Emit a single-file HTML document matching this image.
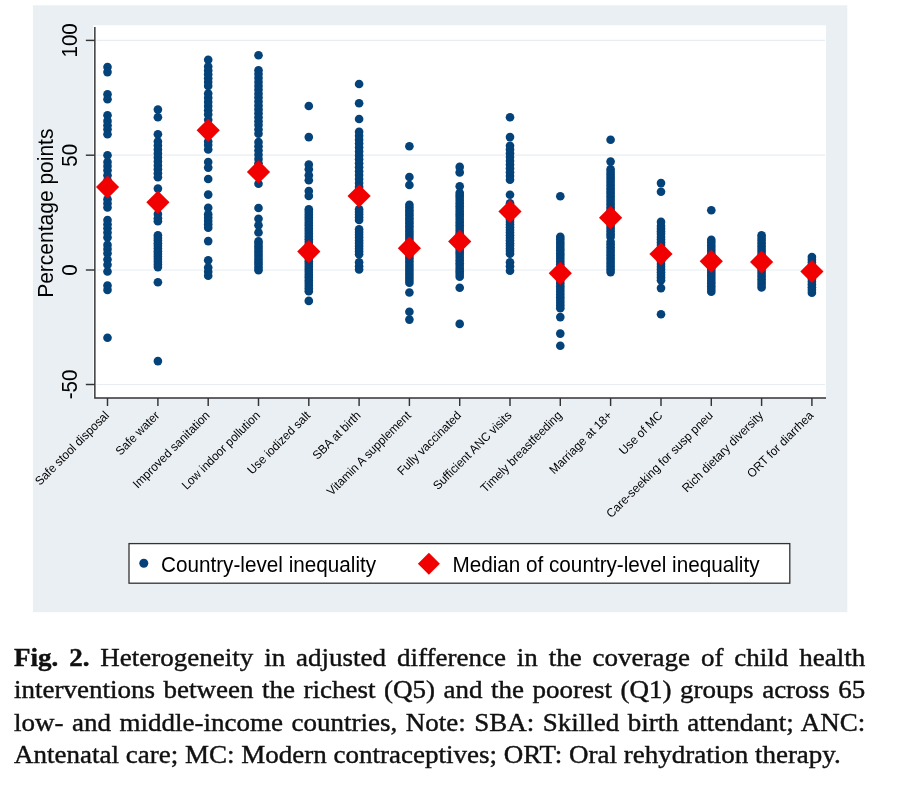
<!DOCTYPE html>
<html><head><meta charset="utf-8"><title>Fig. 2</title>
<style>
html,body{margin:0;padding:0;background:#fff;}
body{width:903px;height:786px;position:relative;overflow:hidden;font-family:"Liberation Sans",sans-serif;}
.ln{position:absolute;left:13.9px;top:0;width:781.61px;height:27.45px;line-height:27.45px;font-family:"Liberation Serif",serif;font-size:24.8px;color:#111;white-space:nowrap;text-align:justify;text-align-last:justify;transform-origin:0 0;filter:grayscale(1);-webkit-text-stroke:0.4px #111;}
.ln.last{text-align:left;text-align-last:left;}
</style></head><body>
<svg width="903" height="786" viewBox="0 0 903 786" style="position:absolute;left:0;top:0">
<defs><filter id="gs" x="-5%" y="-5%" width="110%" height="110%" color-interpolation-filters="sRGB"><feColorMatrix type="saturate" values="0"/></filter></defs>
<rect x="32.9" y="5.3" width="814.4" height="606.9" fill="#eaeff4"/>
<rect x="93.25" y="25.299999999999997" width="732.75" height="372.70000000000005" fill="#ffffff"/>
<line x1="96.35" x2="825.2" y1="40.4" y2="40.4" stroke="#e8edf4" stroke-width="1.2"/>
<line x1="96.35" x2="825.2" y1="155.2" y2="155.2" stroke="#e8edf4" stroke-width="1.2"/>
<line x1="96.35" x2="825.2" y1="270.0" y2="270.0" stroke="#e8edf4" stroke-width="1.2"/>
<line x1="96.35" x2="825.2" y1="384.5" y2="384.5" stroke="#e8edf4" stroke-width="1.2"/>
<g fill="#04427a">
<circle cx="107.5" cy="67.0" r="4.32"/>
<circle cx="107.5" cy="72.1" r="4.32"/>
<circle cx="107.5" cy="94.3" r="4.32"/>
<circle cx="107.5" cy="99.3" r="4.32"/>
<circle cx="107.5" cy="115.3" r="4.32"/>
<circle cx="107.5" cy="120.9" r="4.32"/>
<circle cx="107.5" cy="125.3" r="4.32"/>
<circle cx="107.5" cy="129.3" r="4.32"/>
<circle cx="107.5" cy="134.3" r="4.32"/>
<circle cx="107.5" cy="155.3" r="4.32"/>
<circle cx="107.5" cy="162.0" r="4.32"/>
<circle cx="107.5" cy="166.1" r="4.32"/>
<circle cx="107.5" cy="170.3" r="4.32"/>
<circle cx="107.5" cy="175.3" r="4.32"/>
<circle cx="107.5" cy="180.3" r="4.32"/>
<circle cx="107.5" cy="199.2" r="4.32"/>
<circle cx="107.5" cy="203.4" r="4.32"/>
<circle cx="107.5" cy="207.5" r="4.32"/>
<circle cx="107.5" cy="220.0" r="4.32"/>
<circle cx="107.5" cy="224.2" r="4.32"/>
<circle cx="107.5" cy="228.3" r="4.32"/>
<circle cx="107.5" cy="232.6" r="4.32"/>
<circle cx="107.5" cy="237.4" r="4.32"/>
<circle cx="107.5" cy="244.9" r="4.32"/>
<circle cx="107.5" cy="249.1" r="4.32"/>
<circle cx="107.5" cy="253.2" r="4.32"/>
<circle cx="107.5" cy="259.5" r="4.32"/>
<circle cx="107.5" cy="264.8" r="4.32"/>
<circle cx="107.5" cy="271.5" r="4.32"/>
<circle cx="107.5" cy="285.6" r="4.32"/>
<circle cx="107.5" cy="289.9" r="4.32"/>
<circle cx="107.5" cy="337.8" r="4.32"/>
<circle cx="157.9" cy="109.6" r="4.32"/>
<circle cx="157.9" cy="117.3" r="4.32"/>
<circle cx="157.9" cy="134.3" r="4.32"/>
<circle cx="157.9" cy="141.5" r="4.32"/>
<circle cx="157.9" cy="145.5" r="4.32"/>
<circle cx="157.9" cy="149.5" r="4.32"/>
<circle cx="157.9" cy="153.4" r="4.32"/>
<circle cx="157.9" cy="157.4" r="4.32"/>
<circle cx="157.9" cy="161.4" r="4.32"/>
<circle cx="157.9" cy="165.4" r="4.32"/>
<circle cx="157.9" cy="169.3" r="4.32"/>
<circle cx="157.9" cy="173.3" r="4.32"/>
<circle cx="157.9" cy="177.3" r="4.32"/>
<circle cx="157.9" cy="188.6" r="4.32"/>
<circle cx="157.9" cy="214.0" r="4.32"/>
<circle cx="157.9" cy="218.3" r="4.32"/>
<circle cx="157.9" cy="221.3" r="4.32"/>
<circle cx="157.9" cy="235.2" r="4.32"/>
<circle cx="157.9" cy="237.9" r="4.32"/>
<circle cx="157.9" cy="240.5" r="4.32"/>
<circle cx="157.9" cy="243.2" r="4.32"/>
<circle cx="157.9" cy="245.8" r="4.32"/>
<circle cx="157.9" cy="248.5" r="4.32"/>
<circle cx="157.9" cy="251.2" r="4.32"/>
<circle cx="157.9" cy="253.8" r="4.32"/>
<circle cx="157.9" cy="256.5" r="4.32"/>
<circle cx="157.9" cy="259.1" r="4.32"/>
<circle cx="157.9" cy="261.8" r="4.32"/>
<circle cx="157.9" cy="264.4" r="4.32"/>
<circle cx="157.9" cy="267.1" r="4.32"/>
<circle cx="157.9" cy="282.3" r="4.32"/>
<circle cx="157.9" cy="361.1" r="4.32"/>
<circle cx="208.2" cy="59.8" r="4.32"/>
<circle cx="208.2" cy="66.6" r="4.32"/>
<circle cx="208.2" cy="70.5" r="4.32"/>
<circle cx="208.2" cy="74.3" r="4.32"/>
<circle cx="208.2" cy="78.2" r="4.32"/>
<circle cx="208.2" cy="82.0" r="4.32"/>
<circle cx="208.2" cy="85.9" r="4.32"/>
<circle cx="208.2" cy="93.6" r="4.32"/>
<circle cx="208.2" cy="97.8" r="4.32"/>
<circle cx="208.2" cy="101.9" r="4.32"/>
<circle cx="208.2" cy="106.1" r="4.32"/>
<circle cx="208.2" cy="110.2" r="4.32"/>
<circle cx="208.2" cy="114.4" r="4.32"/>
<circle cx="208.2" cy="119.7" r="4.32"/>
<circle cx="208.2" cy="141.5" r="4.32"/>
<circle cx="208.2" cy="145.1" r="4.32"/>
<circle cx="208.2" cy="149.5" r="4.32"/>
<circle cx="208.2" cy="162.0" r="4.32"/>
<circle cx="208.2" cy="167.6" r="4.32"/>
<circle cx="208.2" cy="179.0" r="4.32"/>
<circle cx="208.2" cy="194.6" r="4.32"/>
<circle cx="208.2" cy="207.7" r="4.32"/>
<circle cx="208.2" cy="214.4" r="4.32"/>
<circle cx="208.2" cy="217.7" r="4.32"/>
<circle cx="208.2" cy="221.0" r="4.32"/>
<circle cx="208.2" cy="224.4" r="4.32"/>
<circle cx="208.2" cy="227.7" r="4.32"/>
<circle cx="208.2" cy="241.1" r="4.32"/>
<circle cx="208.2" cy="260.2" r="4.32"/>
<circle cx="208.2" cy="267.5" r="4.32"/>
<circle cx="208.2" cy="271.7" r="4.32"/>
<circle cx="208.2" cy="275.8" r="4.32"/>
<circle cx="258.5" cy="55.2" r="4.32"/>
<circle cx="258.5" cy="70.2" r="4.32"/>
<circle cx="258.5" cy="74.1" r="4.32"/>
<circle cx="258.5" cy="78.0" r="4.32"/>
<circle cx="258.5" cy="82.0" r="4.32"/>
<circle cx="258.5" cy="85.9" r="4.32"/>
<circle cx="258.5" cy="89.8" r="4.32"/>
<circle cx="258.5" cy="93.7" r="4.32"/>
<circle cx="258.5" cy="97.6" r="4.32"/>
<circle cx="258.5" cy="101.6" r="4.32"/>
<circle cx="258.5" cy="105.5" r="4.32"/>
<circle cx="258.5" cy="109.4" r="4.32"/>
<circle cx="258.5" cy="113.3" r="4.32"/>
<circle cx="258.5" cy="117.3" r="4.32"/>
<circle cx="258.5" cy="121.2" r="4.32"/>
<circle cx="258.5" cy="125.1" r="4.32"/>
<circle cx="258.5" cy="129.5" r="4.32"/>
<circle cx="258.5" cy="133.8" r="4.32"/>
<circle cx="258.5" cy="142.0" r="4.32"/>
<circle cx="258.5" cy="146.3" r="4.32"/>
<circle cx="258.5" cy="150.5" r="4.32"/>
<circle cx="258.5" cy="154.8" r="4.32"/>
<circle cx="258.5" cy="159.0" r="4.32"/>
<circle cx="258.5" cy="163.3" r="4.32"/>
<circle cx="258.5" cy="183.8" r="4.32"/>
<circle cx="258.5" cy="208.0" r="4.32"/>
<circle cx="258.5" cy="218.8" r="4.32"/>
<circle cx="258.5" cy="225.3" r="4.32"/>
<circle cx="258.5" cy="232.5" r="4.32"/>
<circle cx="258.5" cy="241.2" r="4.32"/>
<circle cx="258.5" cy="243.8" r="4.32"/>
<circle cx="258.5" cy="246.5" r="4.32"/>
<circle cx="258.5" cy="249.1" r="4.32"/>
<circle cx="258.5" cy="251.8" r="4.32"/>
<circle cx="258.5" cy="254.4" r="4.32"/>
<circle cx="258.5" cy="257.1" r="4.32"/>
<circle cx="258.5" cy="259.7" r="4.32"/>
<circle cx="258.5" cy="262.4" r="4.32"/>
<circle cx="258.5" cy="265.0" r="4.32"/>
<circle cx="258.5" cy="267.7" r="4.32"/>
<circle cx="258.5" cy="270.3" r="4.32"/>
<circle cx="308.8" cy="106.0" r="4.32"/>
<circle cx="308.8" cy="137.1" r="4.32"/>
<circle cx="308.8" cy="164.5" r="4.32"/>
<circle cx="308.8" cy="169.3" r="4.32"/>
<circle cx="308.8" cy="175.3" r="4.32"/>
<circle cx="308.8" cy="180.2" r="4.32"/>
<circle cx="308.8" cy="191.0" r="4.32"/>
<circle cx="308.8" cy="195.9" r="4.32"/>
<circle cx="308.8" cy="209.2" r="4.32"/>
<circle cx="308.8" cy="211.9" r="4.32"/>
<circle cx="308.8" cy="214.7" r="4.32"/>
<circle cx="308.8" cy="217.4" r="4.32"/>
<circle cx="308.8" cy="220.1" r="4.32"/>
<circle cx="308.8" cy="222.9" r="4.32"/>
<circle cx="308.8" cy="225.6" r="4.32"/>
<circle cx="308.8" cy="228.4" r="4.32"/>
<circle cx="308.8" cy="231.1" r="4.32"/>
<circle cx="308.8" cy="233.8" r="4.32"/>
<circle cx="308.8" cy="236.6" r="4.32"/>
<circle cx="308.8" cy="239.3" r="4.32"/>
<circle cx="308.8" cy="242.0" r="4.32"/>
<circle cx="308.8" cy="244.8" r="4.32"/>
<circle cx="308.8" cy="247.5" r="4.32"/>
<circle cx="308.8" cy="250.2" r="4.32"/>
<circle cx="308.8" cy="253.0" r="4.32"/>
<circle cx="308.8" cy="255.7" r="4.32"/>
<circle cx="308.8" cy="258.5" r="4.32"/>
<circle cx="308.8" cy="261.2" r="4.32"/>
<circle cx="308.8" cy="263.9" r="4.32"/>
<circle cx="308.8" cy="266.7" r="4.32"/>
<circle cx="308.8" cy="269.4" r="4.32"/>
<circle cx="308.8" cy="272.1" r="4.32"/>
<circle cx="308.8" cy="274.9" r="4.32"/>
<circle cx="308.8" cy="277.6" r="4.32"/>
<circle cx="308.8" cy="280.4" r="4.32"/>
<circle cx="308.8" cy="283.1" r="4.32"/>
<circle cx="308.8" cy="285.8" r="4.32"/>
<circle cx="308.8" cy="288.6" r="4.32"/>
<circle cx="308.8" cy="291.3" r="4.32"/>
<circle cx="308.8" cy="300.9" r="4.32"/>
<circle cx="359.1" cy="84.0" r="4.32"/>
<circle cx="359.1" cy="103.3" r="4.32"/>
<circle cx="359.1" cy="119.0" r="4.32"/>
<circle cx="359.1" cy="131.8" r="4.32"/>
<circle cx="359.1" cy="135.7" r="4.32"/>
<circle cx="359.1" cy="139.7" r="4.32"/>
<circle cx="359.1" cy="143.6" r="4.32"/>
<circle cx="359.1" cy="147.5" r="4.32"/>
<circle cx="359.1" cy="151.5" r="4.32"/>
<circle cx="359.1" cy="155.4" r="4.32"/>
<circle cx="359.1" cy="159.3" r="4.32"/>
<circle cx="359.1" cy="163.3" r="4.32"/>
<circle cx="359.1" cy="167.2" r="4.32"/>
<circle cx="359.1" cy="171.2" r="4.32"/>
<circle cx="359.1" cy="175.1" r="4.32"/>
<circle cx="359.1" cy="179.0" r="4.32"/>
<circle cx="359.1" cy="183.0" r="4.32"/>
<circle cx="359.1" cy="186.9" r="4.32"/>
<circle cx="359.1" cy="209.2" r="4.32"/>
<circle cx="359.1" cy="211.9" r="4.32"/>
<circle cx="359.1" cy="214.6" r="4.32"/>
<circle cx="359.1" cy="217.3" r="4.32"/>
<circle cx="359.1" cy="220.0" r="4.32"/>
<circle cx="359.1" cy="229.2" r="4.32"/>
<circle cx="359.1" cy="232.0" r="4.32"/>
<circle cx="359.1" cy="234.8" r="4.32"/>
<circle cx="359.1" cy="237.6" r="4.32"/>
<circle cx="359.1" cy="240.4" r="4.32"/>
<circle cx="359.1" cy="243.1" r="4.32"/>
<circle cx="359.1" cy="245.9" r="4.32"/>
<circle cx="359.1" cy="248.7" r="4.32"/>
<circle cx="359.1" cy="251.5" r="4.32"/>
<circle cx="359.1" cy="254.3" r="4.32"/>
<circle cx="359.1" cy="262.3" r="4.32"/>
<circle cx="359.1" cy="266.3" r="4.32"/>
<circle cx="359.1" cy="269.5" r="4.32"/>
<circle cx="409.4" cy="146.3" r="4.32"/>
<circle cx="409.4" cy="177.0" r="4.32"/>
<circle cx="409.4" cy="185.0" r="4.32"/>
<circle cx="409.4" cy="204.8" r="4.32"/>
<circle cx="409.4" cy="207.5" r="4.32"/>
<circle cx="409.4" cy="210.2" r="4.32"/>
<circle cx="409.4" cy="212.9" r="4.32"/>
<circle cx="409.4" cy="215.6" r="4.32"/>
<circle cx="409.4" cy="218.2" r="4.32"/>
<circle cx="409.4" cy="220.9" r="4.32"/>
<circle cx="409.4" cy="223.6" r="4.32"/>
<circle cx="409.4" cy="226.3" r="4.32"/>
<circle cx="409.4" cy="229.0" r="4.32"/>
<circle cx="409.4" cy="231.7" r="4.32"/>
<circle cx="409.4" cy="234.4" r="4.32"/>
<circle cx="409.4" cy="237.1" r="4.32"/>
<circle cx="409.4" cy="239.8" r="4.32"/>
<circle cx="409.4" cy="242.5" r="4.32"/>
<circle cx="409.4" cy="245.1" r="4.32"/>
<circle cx="409.4" cy="247.8" r="4.32"/>
<circle cx="409.4" cy="250.5" r="4.32"/>
<circle cx="409.4" cy="253.2" r="4.32"/>
<circle cx="409.4" cy="255.9" r="4.32"/>
<circle cx="409.4" cy="258.6" r="4.32"/>
<circle cx="409.4" cy="261.3" r="4.32"/>
<circle cx="409.4" cy="264.0" r="4.32"/>
<circle cx="409.4" cy="266.7" r="4.32"/>
<circle cx="409.4" cy="269.4" r="4.32"/>
<circle cx="409.4" cy="272.0" r="4.32"/>
<circle cx="409.4" cy="274.7" r="4.32"/>
<circle cx="409.4" cy="277.4" r="4.32"/>
<circle cx="409.4" cy="280.1" r="4.32"/>
<circle cx="409.4" cy="282.8" r="4.32"/>
<circle cx="409.4" cy="292.5" r="4.32"/>
<circle cx="409.4" cy="311.8" r="4.32"/>
<circle cx="409.4" cy="319.6" r="4.32"/>
<circle cx="459.7" cy="166.9" r="4.32"/>
<circle cx="459.7" cy="172.4" r="4.32"/>
<circle cx="459.7" cy="186.2" r="4.32"/>
<circle cx="459.7" cy="192.7" r="4.32"/>
<circle cx="459.7" cy="195.4" r="4.32"/>
<circle cx="459.7" cy="198.1" r="4.32"/>
<circle cx="459.7" cy="200.8" r="4.32"/>
<circle cx="459.7" cy="203.6" r="4.32"/>
<circle cx="459.7" cy="206.3" r="4.32"/>
<circle cx="459.7" cy="209.0" r="4.32"/>
<circle cx="459.7" cy="211.7" r="4.32"/>
<circle cx="459.7" cy="214.4" r="4.32"/>
<circle cx="459.7" cy="217.1" r="4.32"/>
<circle cx="459.7" cy="219.8" r="4.32"/>
<circle cx="459.7" cy="222.5" r="4.32"/>
<circle cx="459.7" cy="225.3" r="4.32"/>
<circle cx="459.7" cy="228.0" r="4.32"/>
<circle cx="459.7" cy="230.7" r="4.32"/>
<circle cx="459.7" cy="233.4" r="4.32"/>
<circle cx="459.7" cy="236.1" r="4.32"/>
<circle cx="459.7" cy="238.8" r="4.32"/>
<circle cx="459.7" cy="241.5" r="4.32"/>
<circle cx="459.7" cy="244.2" r="4.32"/>
<circle cx="459.7" cy="247.0" r="4.32"/>
<circle cx="459.7" cy="249.7" r="4.32"/>
<circle cx="459.7" cy="252.4" r="4.32"/>
<circle cx="459.7" cy="255.1" r="4.32"/>
<circle cx="459.7" cy="257.8" r="4.32"/>
<circle cx="459.7" cy="260.5" r="4.32"/>
<circle cx="459.7" cy="263.2" r="4.32"/>
<circle cx="459.7" cy="265.9" r="4.32"/>
<circle cx="459.7" cy="268.7" r="4.32"/>
<circle cx="459.7" cy="271.4" r="4.32"/>
<circle cx="459.7" cy="274.1" r="4.32"/>
<circle cx="459.7" cy="276.8" r="4.32"/>
<circle cx="459.7" cy="287.7" r="4.32"/>
<circle cx="459.7" cy="323.9" r="4.32"/>
<circle cx="510.0" cy="117.3" r="4.32"/>
<circle cx="510.0" cy="137.1" r="4.32"/>
<circle cx="510.0" cy="145.8" r="4.32"/>
<circle cx="510.0" cy="149.6" r="4.32"/>
<circle cx="510.0" cy="153.3" r="4.32"/>
<circle cx="510.0" cy="157.1" r="4.32"/>
<circle cx="510.0" cy="160.9" r="4.32"/>
<circle cx="510.0" cy="164.6" r="4.32"/>
<circle cx="510.0" cy="168.4" r="4.32"/>
<circle cx="510.0" cy="172.2" r="4.32"/>
<circle cx="510.0" cy="175.9" r="4.32"/>
<circle cx="510.0" cy="179.7" r="4.32"/>
<circle cx="510.0" cy="194.7" r="4.32"/>
<circle cx="510.0" cy="203.3" r="4.32"/>
<circle cx="510.0" cy="206.0" r="4.32"/>
<circle cx="510.0" cy="208.6" r="4.32"/>
<circle cx="510.0" cy="211.3" r="4.32"/>
<circle cx="510.0" cy="213.9" r="4.32"/>
<circle cx="510.0" cy="216.6" r="4.32"/>
<circle cx="510.0" cy="219.2" r="4.32"/>
<circle cx="510.0" cy="221.9" r="4.32"/>
<circle cx="510.0" cy="224.6" r="4.32"/>
<circle cx="510.0" cy="227.2" r="4.32"/>
<circle cx="510.0" cy="229.9" r="4.32"/>
<circle cx="510.0" cy="232.5" r="4.32"/>
<circle cx="510.0" cy="235.2" r="4.32"/>
<circle cx="510.0" cy="237.9" r="4.32"/>
<circle cx="510.0" cy="240.5" r="4.32"/>
<circle cx="510.0" cy="243.2" r="4.32"/>
<circle cx="510.0" cy="245.8" r="4.32"/>
<circle cx="510.0" cy="248.5" r="4.32"/>
<circle cx="510.0" cy="251.1" r="4.32"/>
<circle cx="510.0" cy="253.8" r="4.32"/>
<circle cx="510.0" cy="262.3" r="4.32"/>
<circle cx="510.0" cy="266.3" r="4.32"/>
<circle cx="510.0" cy="270.7" r="4.32"/>
<circle cx="560.3" cy="196.3" r="4.32"/>
<circle cx="560.3" cy="236.9" r="4.32"/>
<circle cx="560.3" cy="239.6" r="4.32"/>
<circle cx="560.3" cy="242.4" r="4.32"/>
<circle cx="560.3" cy="245.1" r="4.32"/>
<circle cx="560.3" cy="247.9" r="4.32"/>
<circle cx="560.3" cy="250.6" r="4.32"/>
<circle cx="560.3" cy="253.4" r="4.32"/>
<circle cx="560.3" cy="256.1" r="4.32"/>
<circle cx="560.3" cy="258.8" r="4.32"/>
<circle cx="560.3" cy="261.6" r="4.32"/>
<circle cx="560.3" cy="264.3" r="4.32"/>
<circle cx="560.3" cy="267.1" r="4.32"/>
<circle cx="560.3" cy="269.8" r="4.32"/>
<circle cx="560.3" cy="272.6" r="4.32"/>
<circle cx="560.3" cy="275.3" r="4.32"/>
<circle cx="560.3" cy="278.0" r="4.32"/>
<circle cx="560.3" cy="280.8" r="4.32"/>
<circle cx="560.3" cy="283.5" r="4.32"/>
<circle cx="560.3" cy="286.3" r="4.32"/>
<circle cx="560.3" cy="289.0" r="4.32"/>
<circle cx="560.3" cy="291.7" r="4.32"/>
<circle cx="560.3" cy="294.5" r="4.32"/>
<circle cx="560.3" cy="297.2" r="4.32"/>
<circle cx="560.3" cy="300.0" r="4.32"/>
<circle cx="560.3" cy="302.7" r="4.32"/>
<circle cx="560.3" cy="305.5" r="4.32"/>
<circle cx="560.3" cy="308.2" r="4.32"/>
<circle cx="560.3" cy="317.1" r="4.32"/>
<circle cx="560.3" cy="333.6" r="4.32"/>
<circle cx="560.3" cy="345.7" r="4.32"/>
<circle cx="610.6" cy="139.8" r="4.32"/>
<circle cx="610.6" cy="161.6" r="4.32"/>
<circle cx="610.6" cy="169.3" r="4.32"/>
<circle cx="610.6" cy="172.0" r="4.32"/>
<circle cx="610.6" cy="174.7" r="4.32"/>
<circle cx="610.6" cy="177.4" r="4.32"/>
<circle cx="610.6" cy="180.1" r="4.32"/>
<circle cx="610.6" cy="182.8" r="4.32"/>
<circle cx="610.6" cy="185.5" r="4.32"/>
<circle cx="610.6" cy="188.2" r="4.32"/>
<circle cx="610.6" cy="190.9" r="4.32"/>
<circle cx="610.6" cy="193.6" r="4.32"/>
<circle cx="610.6" cy="196.3" r="4.32"/>
<circle cx="610.6" cy="199.0" r="4.32"/>
<circle cx="610.6" cy="201.7" r="4.32"/>
<circle cx="610.6" cy="204.5" r="4.32"/>
<circle cx="610.6" cy="207.2" r="4.32"/>
<circle cx="610.6" cy="209.9" r="4.32"/>
<circle cx="610.6" cy="212.6" r="4.32"/>
<circle cx="610.6" cy="215.3" r="4.32"/>
<circle cx="610.6" cy="218.0" r="4.32"/>
<circle cx="610.6" cy="220.7" r="4.32"/>
<circle cx="610.6" cy="223.4" r="4.32"/>
<circle cx="610.6" cy="226.1" r="4.32"/>
<circle cx="610.6" cy="228.8" r="4.32"/>
<circle cx="610.6" cy="231.5" r="4.32"/>
<circle cx="610.6" cy="234.2" r="4.32"/>
<circle cx="610.6" cy="236.9" r="4.32"/>
<circle cx="610.6" cy="241.7" r="4.32"/>
<circle cx="610.6" cy="244.5" r="4.32"/>
<circle cx="610.6" cy="247.2" r="4.32"/>
<circle cx="610.6" cy="250.0" r="4.32"/>
<circle cx="610.6" cy="252.8" r="4.32"/>
<circle cx="610.6" cy="255.5" r="4.32"/>
<circle cx="610.6" cy="258.3" r="4.32"/>
<circle cx="610.6" cy="261.0" r="4.32"/>
<circle cx="610.6" cy="263.8" r="4.32"/>
<circle cx="610.6" cy="266.6" r="4.32"/>
<circle cx="610.6" cy="269.3" r="4.32"/>
<circle cx="610.6" cy="272.1" r="4.32"/>
<circle cx="661.0" cy="183.1" r="4.32"/>
<circle cx="661.0" cy="191.8" r="4.32"/>
<circle cx="661.0" cy="221.9" r="4.32"/>
<circle cx="661.0" cy="226.0" r="4.32"/>
<circle cx="661.0" cy="228.7" r="4.32"/>
<circle cx="661.0" cy="231.4" r="4.32"/>
<circle cx="661.0" cy="234.1" r="4.32"/>
<circle cx="661.0" cy="236.9" r="4.32"/>
<circle cx="661.0" cy="239.6" r="4.32"/>
<circle cx="661.0" cy="242.3" r="4.32"/>
<circle cx="661.0" cy="245.0" r="4.32"/>
<circle cx="661.0" cy="247.7" r="4.32"/>
<circle cx="661.0" cy="250.4" r="4.32"/>
<circle cx="661.0" cy="253.2" r="4.32"/>
<circle cx="661.0" cy="255.9" r="4.32"/>
<circle cx="661.0" cy="258.6" r="4.32"/>
<circle cx="661.0" cy="261.3" r="4.32"/>
<circle cx="661.0" cy="264.0" r="4.32"/>
<circle cx="661.0" cy="266.7" r="4.32"/>
<circle cx="661.0" cy="269.4" r="4.32"/>
<circle cx="661.0" cy="272.2" r="4.32"/>
<circle cx="661.0" cy="274.9" r="4.32"/>
<circle cx="661.0" cy="277.6" r="4.32"/>
<circle cx="661.0" cy="280.3" r="4.32"/>
<circle cx="661.0" cy="288.1" r="4.32"/>
<circle cx="661.0" cy="314.3" r="4.32"/>
<circle cx="711.3" cy="210.3" r="4.32"/>
<circle cx="711.3" cy="239.9" r="4.32"/>
<circle cx="711.3" cy="242.6" r="4.32"/>
<circle cx="711.3" cy="245.4" r="4.32"/>
<circle cx="711.3" cy="248.1" r="4.32"/>
<circle cx="711.3" cy="250.8" r="4.32"/>
<circle cx="711.3" cy="253.6" r="4.32"/>
<circle cx="711.3" cy="256.3" r="4.32"/>
<circle cx="711.3" cy="259.0" r="4.32"/>
<circle cx="711.3" cy="261.8" r="4.32"/>
<circle cx="711.3" cy="264.5" r="4.32"/>
<circle cx="711.3" cy="267.2" r="4.32"/>
<circle cx="711.3" cy="269.9" r="4.32"/>
<circle cx="711.3" cy="272.7" r="4.32"/>
<circle cx="711.3" cy="275.4" r="4.32"/>
<circle cx="711.3" cy="278.1" r="4.32"/>
<circle cx="711.3" cy="280.9" r="4.32"/>
<circle cx="711.3" cy="283.6" r="4.32"/>
<circle cx="711.3" cy="286.3" r="4.32"/>
<circle cx="711.3" cy="289.1" r="4.32"/>
<circle cx="711.3" cy="291.8" r="4.32"/>
<circle cx="761.6" cy="235.2" r="4.32"/>
<circle cx="761.6" cy="238.0" r="4.32"/>
<circle cx="761.6" cy="240.7" r="4.32"/>
<circle cx="761.6" cy="243.5" r="4.32"/>
<circle cx="761.6" cy="246.2" r="4.32"/>
<circle cx="761.6" cy="249.0" r="4.32"/>
<circle cx="761.6" cy="251.7" r="4.32"/>
<circle cx="761.6" cy="254.5" r="4.32"/>
<circle cx="761.6" cy="257.2" r="4.32"/>
<circle cx="761.6" cy="260.0" r="4.32"/>
<circle cx="761.6" cy="262.7" r="4.32"/>
<circle cx="761.6" cy="265.5" r="4.32"/>
<circle cx="761.6" cy="268.2" r="4.32"/>
<circle cx="761.6" cy="271.0" r="4.32"/>
<circle cx="761.6" cy="273.7" r="4.32"/>
<circle cx="761.6" cy="276.5" r="4.32"/>
<circle cx="761.6" cy="279.2" r="4.32"/>
<circle cx="761.6" cy="282.0" r="4.32"/>
<circle cx="761.6" cy="284.7" r="4.32"/>
<circle cx="761.6" cy="287.5" r="4.32"/>
<circle cx="811.9" cy="257.0" r="4.32"/>
<circle cx="811.9" cy="259.8" r="4.32"/>
<circle cx="811.9" cy="262.5" r="4.32"/>
<circle cx="811.9" cy="265.3" r="4.32"/>
<circle cx="811.9" cy="268.0" r="4.32"/>
<circle cx="811.9" cy="270.8" r="4.32"/>
<circle cx="811.9" cy="273.5" r="4.32"/>
<circle cx="811.9" cy="276.3" r="4.32"/>
<circle cx="811.9" cy="279.0" r="4.32"/>
<circle cx="811.9" cy="281.8" r="4.32"/>
<circle cx="811.9" cy="284.5" r="4.32"/>
<circle cx="811.9" cy="287.3" r="4.32"/>
<circle cx="811.9" cy="290.0" r="4.32"/>
<circle cx="811.9" cy="292.8" r="4.32"/>
</g>
<g fill="#f00000">
<path d="M107.5 175.5L119.1 187.1L107.5 198.7L96.0 187.1Z"/>
<path d="M157.9 190.7L169.5 202.3L157.9 213.9L146.3 202.3Z"/>
<path d="M208.2 118.7L219.8 130.3L208.2 141.9L196.6 130.3Z"/>
<path d="M258.5 160.3L270.1 171.9L258.5 183.5L246.9 171.9Z"/>
<path d="M308.8 240.0L320.4 251.6L308.8 263.2L297.2 251.6Z"/>
<path d="M359.1 184.4L370.7 196.0L359.1 207.6L347.5 196.0Z"/>
<path d="M409.4 236.6L421.0 248.2L409.4 259.8L397.8 248.2Z"/>
<path d="M459.7 229.8L471.3 241.4L459.7 253.0L448.1 241.4Z"/>
<path d="M510.0 199.9L521.6 211.5L510.0 223.1L498.4 211.5Z"/>
<path d="M560.3 261.7L571.9 273.3L560.3 284.9L548.7 273.3Z"/>
<path d="M610.6 206.1L622.2 217.7L610.6 229.3L599.0 217.7Z"/>
<path d="M661.0 242.4L672.6 254.0L661.0 265.6L649.4 254.0Z"/>
<path d="M711.3 249.7L722.9 261.3L711.3 272.9L699.7 261.3Z"/>
<path d="M761.6 250.4L773.2 262.0L761.6 273.6L750.0 262.0Z"/>
<path d="M811.9 259.9L823.5 271.5L811.9 283.1L800.3 271.5Z"/>
</g>
<g stroke="#333333" stroke-width="1.45" fill="none">
<path d="M94.85 26.9V398.0H826.0"/>
<line x1="85.85" x2="94.85" y1="40.4" y2="40.4"/>
<line x1="85.85" x2="94.85" y1="155.2" y2="155.2"/>
<line x1="85.85" x2="94.85" y1="270.0" y2="270.0"/>
<line x1="85.85" x2="94.85" y1="384.5" y2="384.5"/>
<line x1="107.5" x2="107.5" y1="398.0" y2="406.0"/>
<line x1="157.9" x2="157.9" y1="398.0" y2="406.0"/>
<line x1="208.2" x2="208.2" y1="398.0" y2="406.0"/>
<line x1="258.5" x2="258.5" y1="398.0" y2="406.0"/>
<line x1="308.8" x2="308.8" y1="398.0" y2="406.0"/>
<line x1="359.1" x2="359.1" y1="398.0" y2="406.0"/>
<line x1="409.4" x2="409.4" y1="398.0" y2="406.0"/>
<line x1="459.7" x2="459.7" y1="398.0" y2="406.0"/>
<line x1="510.0" x2="510.0" y1="398.0" y2="406.0"/>
<line x1="560.3" x2="560.3" y1="398.0" y2="406.0"/>
<line x1="610.6" x2="610.6" y1="398.0" y2="406.0"/>
<line x1="661.0" x2="661.0" y1="398.0" y2="406.0"/>
<line x1="711.3" x2="711.3" y1="398.0" y2="406.0"/>
<line x1="761.6" x2="761.6" y1="398.0" y2="406.0"/>
<line x1="811.9" x2="811.9" y1="398.0" y2="406.0"/>
</g>
<g font-family="Liberation Sans, sans-serif" font-size="20.6" fill="#000" text-anchor="middle" filter="url(#gs)">
<text transform="translate(77 40.4) rotate(-90) scale(1 1.04)">100</text>
<text transform="translate(77 155.2) rotate(-90) scale(1 1.04)">50</text>
<text transform="translate(77 270.0) rotate(-90) scale(1 1.04)">0</text>
<text transform="translate(77 384.5) rotate(-90) scale(1 1.04)">-50</text>
<text font-size="21" transform="translate(53.4 213.2) rotate(-90) scale(1 1.045)">Percentage points</text>
</g>
<g font-family="Liberation Sans, sans-serif" font-size="11.8" fill="#000" text-anchor="end" filter="url(#gs)">
<text transform="translate(109.8 416.2) rotate(-45) scale(1 1.04)">Safe stool disposal</text>
<text transform="translate(160.2 416.2) rotate(-45) scale(1 1.04)">Safe water</text>
<text transform="translate(210.5 416.2) rotate(-45) scale(1 1.04)">Improved sanitation</text>
<text transform="translate(260.8 416.2) rotate(-45) scale(1 1.04)">Low indoor pollution</text>
<text transform="translate(311.1 416.2) rotate(-45) scale(1 1.04)">Use iodized salt</text>
<text transform="translate(361.4 416.2) rotate(-45) scale(1 1.04)">SBA at birth</text>
<text transform="translate(411.7 416.2) rotate(-45) scale(1 1.04)">Vitamin A supplement</text>
<text transform="translate(462.0 416.2) rotate(-45) scale(1 1.04)">Fully vaccinated</text>
<text transform="translate(512.3 416.2) rotate(-45) scale(1 1.04)">Sufficient ANC visits</text>
<text transform="translate(562.6 416.2) rotate(-45) scale(1 1.04)">Timely breastfeeding</text>
<text transform="translate(612.9 416.2) rotate(-45) scale(1 1.04)">Marriage at 18+</text>
<text transform="translate(663.3 416.2) rotate(-45) scale(1 1.04)">Use of MC</text>
<text transform="translate(713.6 416.2) rotate(-45) scale(1 1.04)">Care-seeking for susp pneu</text>
<text transform="translate(763.9 416.2) rotate(-45) scale(1 1.04)">Rich dietary diversity</text>
<text transform="translate(814.2 416.2) rotate(-45) scale(1 1.04)">ORT for diarrhea</text>
</g>
<rect x="129" y="543.6" width="660.8" height="39.6" fill="#fff" stroke="#333333" stroke-width="1.3"/>
<circle cx="143.8" cy="563.3" r="4.5" fill="#04427a"/>
<path d="M428.9 552.8L439.9 563.8L428.9 574.8L417.9 563.8Z" fill="#f00000"/>
<g font-family="Liberation Sans, sans-serif" font-size="20.7" fill="#000" filter="url(#gs)">
<text transform="translate(161.0 572.1) scale(1 1.04)">Country-level inequality</text>
<text transform="translate(452.4 572.1) scale(1 1.04)">Median of country-level inequality</text>
</g>
</svg>
<div class="ln" style="transform:translate(0,643.95px) scaleX(1.0890)"><b>Fig. 2.</b> Heterogeneity in adjusted difference in the coverage of child health</div>
<div class="ln" style="transform:translate(0,676.32px) scaleX(1.0890)">interventions between the richest (Q5) and the poorest (Q1) groups across 65</div>
<div class="ln" style="transform:translate(0,708.69px) scaleX(1.0890)">low- and middle-income countries, Note: SBA: Skilled birth attendant; ANC:</div>
<div class="ln last" style="transform:translate(0,741.06px) scaleX(1.0890)">Antenatal care; MC: Modern contraceptives; ORT: Oral rehydration therapy.</div>

</body></html>
